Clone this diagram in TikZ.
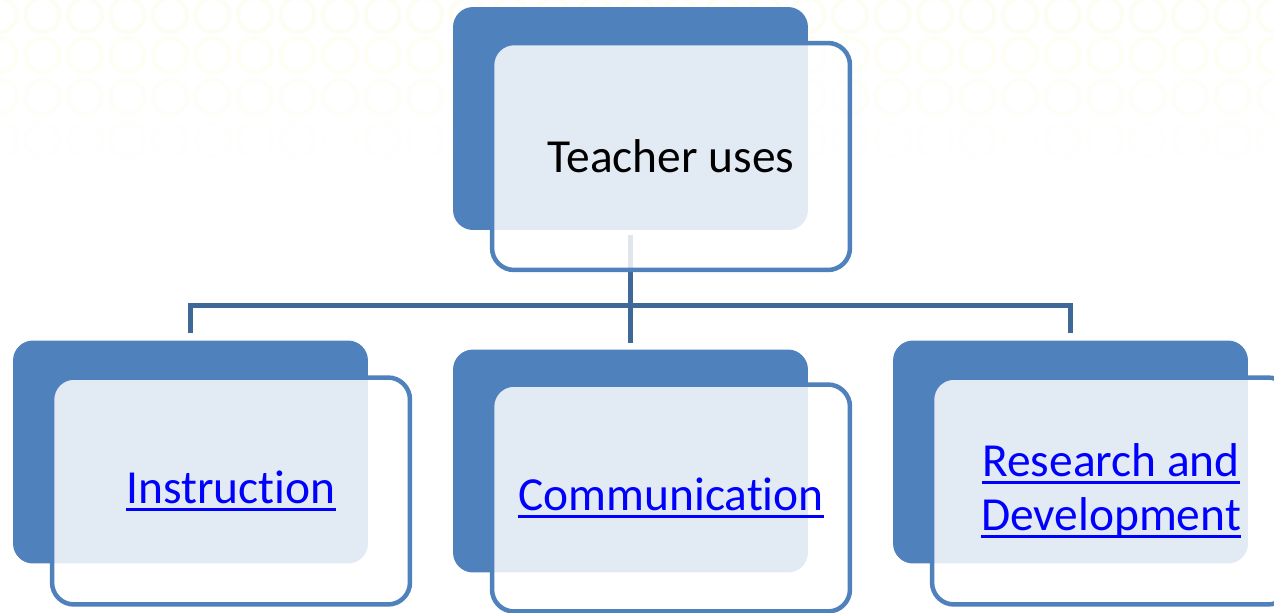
\documentclass[tikz,border=0pt]{standalone}
\usepackage{fontspec}
\setmainfont{Carlito}[Ligatures={NoCommon,NoRare}]
\usepackage{tikz}
\usetikzlibrary{positioning}

\definecolor{boxblue}{HTML}{4F81BD}
\definecolor{linkblue}{HTML}{3E6898}
\definecolor{textblue}{HTML}{0000FF}
\definecolor{paleyellow}{HTML}{FBFBE0}

% underlined hyperlink text
\newcommand{\ulnk}[1]{\leavevmode\setbox0\hbox{#1}\rlap{\rule[-4.3pt]{\wd0}{1.7pt}}\box0}

\tikzset{
  backbox/.style={fill=boxblue,draw=none,rounded corners=0.4cm,
    minimum width=7.1cm,minimum height=4.46cm,inner sep=0pt,outer sep=0pt},
  frontbox/.style={draw=boxblue,line width=0.09cm,fill=white,fill opacity=0.84,
    text opacity=1,rounded corners=0.44cm,minimum width=7.16cm,minimum height=4.54cm,
    inner sep=0pt,outer sep=0pt,align=center,
    font=\fontsize{27}{31}\selectfont},
  hyper/.style={text=textblue},
  link/.style={draw=linkblue,line width=0.1cm}
}

\begin{document}
\begin{tikzpicture}[x=0.02cm,y=-0.02cm]
  \useasboundingbox[fill=white] (0,0) rectangle (1274,612);
  % Faint background rings
  \foreach \row/\shade in {15/40,55/32,97/20,140/10} {
    \foreach \col in {0,...,30} {
      \draw[paleyellow!\shade,line width=0.08cm] (\col*42.5,\row) circle (17);
    }
  }
  % Back boxes
  \node[backbox] (teachb) at (630.5,118.5) {};
  \node[backbox] (instb) at (190.5,452) {};
  \node[backbox] (commb) at (630.5,461) {};
  \node[backbox] (resb) at (1070.5,452) {};
  % Connectors
  \coordinate (bus) at (630.5,305);
  \draw[link,shorten >=0.16cm] (bus) -| (instb.north);
  \draw[link,shorten >=0.16cm] (bus) -| (resb.north);
  \draw[link,shorten >=0.14cm,shorten <=0.1cm] (teachb.south) -- (commb.north);
  % Front boxes
  \node[frontbox] (teach) at (671,156.5) {Teacher uses};
  \node[frontbox,hyper] (inst) at (231,491) {\ulnk{Instruction}};
  \node[frontbox,hyper] (comm) at (671,498) {\ulnk{Communication}};
  \node[frontbox,hyper] (res) at (1111,491) {\ulnk{Research and}\\\ulnk{Development}};
\end{tikzpicture}
\end{document}
